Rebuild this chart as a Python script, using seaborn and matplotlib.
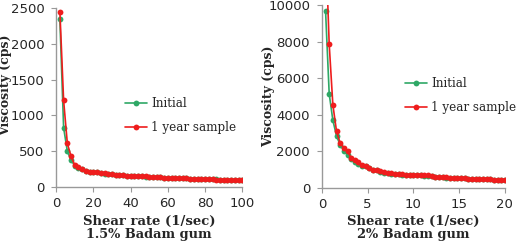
import numpy as np
import pandas as pd
import matplotlib
matplotlib.use("Agg")
import matplotlib.pyplot as plt
import seaborn as sns

# 1.5% Badam gum, shear rate 2..100 (1/sec)
rate_15 = list(range(2, 101, 2))
initial_15 = [2340, 830, 500, 375, 300, 268, 250, 228, 214, 210, 205, 193, 188, 183, 178, 171, 167, 163, 159, 157,
              154, 151, 149, 147, 144, 141, 139, 137, 131, 125, 124, 123, 122, 121, 120, 118, 113, 111, 110, 109,
              108, 107, 106, 105, 105, 104, 103, 101, 100, 100]
year_15 = [2450, 1210, 610, 430, 305, 275, 255, 230, 215, 212, 208, 195, 190, 185, 180, 172, 168, 165, 160, 158,
           155, 152, 150, 148, 145, 142, 140, 138, 132, 125, 124, 123, 122, 121, 120, 118, 112, 110, 109, 108,
           107, 106, 105, 105, 104, 103, 98, 96, 95, 94]

# 2% Badam gum, shear rate 0.4..20 (1/sec)
rate_2 = [round(0.4 * i, 1) for i in range(1, 51)]
initial_2 = [9700, 5150, 3700, 2850, 2350, 2050, 1800, 1600, 1450, 1330, 1230, 1180, 1080, 990, 960, 900, 840, 810,
             790, 780, 750, 730, 710, 700, 690, 690, 690, 680, 680, 640, 620, 600, 590, 570, 560, 545, 545, 545,
             535, 505, 495, 495, 495, 495, 495, 475, 450, 440, 440, 440]
year_2 = [13500, 7850, 4550, 3100, 2450, 2200, 2000, 1650, 1550, 1400, 1250, 1200, 1100, 1000, 980, 920, 850, 820,
          800, 790, 760, 740, 720, 710, 700, 700, 700, 690, 690, 650, 630, 600, 600, 580, 570, 550, 550, 550,
          540, 510, 500, 500, 500, 500, 500, 480, 450, 440, 440, 440]

series_names = ["Initial", "1 year sample"]
green = "#2fa866"
red = "#ee1d1d"
serif = "DejaVu Serif"

sns.set_style("white")
plt.rcParams['font.family'] = ['DejaVu Sans']

fig = plt.figure(figsize=(5.2, 2.42), dpi=100)
ax1 = fig.add_axes([0.108, 0.227, 0.358, 0.740])
ax2 = fig.add_axes([0.619, 0.223, 0.352, 0.756])


def long_df(x, a, b):
    return pd.DataFrame({
        "rate": list(x) + list(x),
        "visc": list(a) + list(b),
        "series": [series_names[0]] * len(x) + [series_names[1]] * len(x),
    })


panels = [
    # ax, data, xlim, xticks, ylim, yticks, title, title x, legend anchor, xlabel y, ylabel (x, y)
    (ax1, long_df(rate_15, initial_15, year_15), (0, 100), np.arange(0, 101, 20), (0, 2500), np.arange(0, 2501, 500),
     "1.5% Badam gum", 0.287, (0.37, 0.40), -0.155, (-0.235, 0.57)),
    (ax2, long_df(rate_2, initial_2, year_2), (0, 20), np.arange(0, 21, 5), (0, 10000), np.arange(0, 10001, 2000),
     "2% Badam gum", 0.795, (0.455, 0.505), -0.148, (-0.255, 0.50)),
]

for ax, df, xlim, xticks, ylim, yticks, title, tx, leg_pos, xl_y, yl_pos in panels:
    sns.lineplot(data=df, x="rate", y="visc", hue="series", palette=[green, red], marker="o",
                 markersize=4.2, markeredgewidth=0, linewidth=1.2, ax=ax, legend=True)
    ax.set_xlim(*xlim)
    ax.set_ylim(*ylim)
    ax.set_xticks(xticks)
    ax.set_yticks(yticks)
    ax.tick_params(axis="both", labelsize=9.5, length=3.5, width=0.8, color="#999999", direction="out",
                   bottom=True, left=True)
    ax.tick_params(axis="y", pad=5)
    ax.tick_params(axis="x", pad=4)
    sns.despine(ax=ax)
    for s in ["left", "bottom"]:
        ax.spines[s].set_color("#999999")
        ax.spines[s].set_linewidth(1.0)
    ax.set_xlabel("Shear rate (1/sec)", fontsize=9.5, fontweight="bold", family=serif)
    ax.set_ylabel("Viscosity (cps)", fontsize=9, fontweight="bold", family=serif)
    ax.xaxis.set_label_coords(0.5, xl_y)
    ax.yaxis.set_label_coords(*yl_pos)
    fig.text(tx, 0.033, title, ha="center", va="center", fontsize=9.3, fontweight="bold", family=serif)
    ax.legend(loc="center left", bbox_to_anchor=leg_pos, frameon=False, borderpad=0, borderaxespad=0,
              handlelength=1.85, handletextpad=0.35, labelspacing=0.95, prop={"family": serif, "size": 8.6})

fig.savefig("out.png", dpi=100)
